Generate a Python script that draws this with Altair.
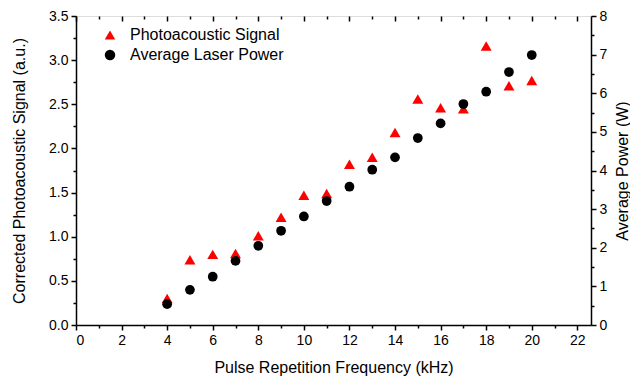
import altair as alt
import pandas as pd

# ---- data ----
freq = list(range(4, 21))
pa_signal = [0.30, 0.74, 0.80, 0.81, 1.01, 1.22, 1.47, 1.49, 1.82, 1.90,
             2.18, 2.56, 2.46, 2.45, 3.16, 2.71, 2.77]
avg_power = [0.54, 0.91, 1.25, 1.66, 2.05, 2.44, 2.81, 3.21, 3.58, 4.02,
             4.34, 4.84, 5.22, 5.72, 6.04, 6.55, 6.99]

series_names = ["Photoacoustic Signal", "Average Laser Power"]
series_colors = ["#ff0000", "#000000"]
series_shapes = ["triangle-up", "circle"]

x_major = [0, 2, 4, 6, 8, 10, 12, 14, 16, 18, 20, 22]
x_minor = [1, 3, 5, 7, 9, 11, 13, 15, 17, 19, 21]
yl_major = [0.0, 0.5, 1.0, 1.5, 2.0, 2.5, 3.0, 3.5]
yl_minor = [0.25, 0.75, 1.25, 1.75, 2.25, 2.75, 3.25]
yr_major = [0, 1, 2, 3, 4, 5, 6, 7, 8]
yr_minor = [0.5, 1.5, 2.5, 3.5, 4.5, 5.5, 6.5, 7.5]

df = pd.DataFrame({"freq": freq, "pa": pa_signal, "power": avg_power})

FONT = "Liberation Sans"
xscale = alt.Scale(domain=[0, 22.6], nice=False, zero=False)
yl = alt.Scale(domain=[0, 3.5], nice=False)
yr = alt.Scale(domain=[0, 8], nice=False)

legend = alt.Legend(orient="none", legendX=26, legendY=11, title=None,
                    labelFont=FONT, labelFontSize=16, labelColor="black",
                    symbolSize=110, symbolStrokeWidth=0, padding=0,
                    labelOffset=12, rowPadding=4)
color = alt.Color("series:N", scale=alt.Scale(domain=series_names, range=series_colors), legend=legend)
shape = alt.Shape("series:N", scale=alt.Scale(domain=series_names, range=series_shapes), legend=legend)

base = alt.Chart(df)

common_axis = dict(labelFont=FONT, labelFontSize=14, titleFont=FONT, titleFontSize=16,
                   titleFontWeight="normal", labelColor="black", titleColor="black",
                   tickColor="black", domainColor="black", tickWidth=1.5, domainWidth=1.5,
                   grid=False)

tri = base.transform_calculate(series="'Photoacoustic Signal'").mark_point(
    filled=True, size=120, opacity=1).encode(
    x=alt.X("freq:Q", scale=xscale,
            axis=alt.Axis(orient="bottom", values=x_major, title="Pulse Repetition Frequency (kHz)",
                          tickSize=5, labelPadding=3, titlePadding=12, format="d", **common_axis)),
    y=alt.Y("pa:Q", scale=yl,
            axis=alt.Axis(orient="left", values=yl_major, title="Corrected Photoacoustic Signal (a.u.)",
                          tickSize=5, labelPadding=3, titlePadding=21, format=".1f", **common_axis)),
    color=color, shape=shape)

circ = base.transform_calculate(series="'Average Laser Power'").mark_point(
    filled=True, size=95, opacity=1).encode(
    x=alt.X("freq:Q", scale=xscale, axis=None),
    y=alt.Y("power:Q", scale=yr,
            axis=alt.Axis(orient="right", values=yr_major, title="Average Power (W)",
                          titleAngle=270, titleBaseline="top",
                          tickSize=5, labelPadding=3, titlePadding=8, format="d", **common_axis)),
    color=color, shape=shape)

minor_a = base.mark_point(opacity=0).encode(
    x=alt.X("freq:Q", scale=xscale,
            axis=alt.Axis(orient="bottom", values=x_minor, labels=False, tickSize=3, domain=False,
                          title=None, **common_axis)),
    y=alt.Y("pa:Q", scale=yl,
            axis=alt.Axis(orient="left", values=yl_minor, labels=False, tickSize=3, domain=False,
                          title=None, **common_axis)))

minor_b = base.mark_point(opacity=0).encode(
    x=alt.X("freq:Q", scale=xscale,
            axis=alt.Axis(orient="top", values=x_major, labels=False, tickSize=5, domain=False,
                          offset=-5, title=None, **common_axis)),
    y=alt.Y("power:Q", scale=yr,
            axis=alt.Axis(orient="right", values=yr_minor, labels=False, tickSize=3, domain=False,
                          title=None, **common_axis)))

minor_c = base.mark_point(opacity=0).encode(
    x=alt.X("freq:Q", scale=xscale,
            axis=alt.Axis(orient="top", values=x_minor, labels=False, tickSize=3, domain=False,
                          offset=-3, title=None, **common_axis)),
    y=alt.Y("power:Q", scale=yr, axis=None))

chart = alt.layer(tri, circ, minor_a, minor_b, minor_c).resolve_scale(
    y="independent").resolve_axis(x="independent", y="independent").properties(
    width=515, height=309,
    autosize=alt.AutoSizeParams(type="none"),
    padding={"left": 76, "top": 16, "right": 39, "bottom": 51},
).configure_view(stroke="black", strokeWidth=1.5).configure(background="white")

chart.save("out.html", embed_options={"renderer": "svg", "actions": False})
